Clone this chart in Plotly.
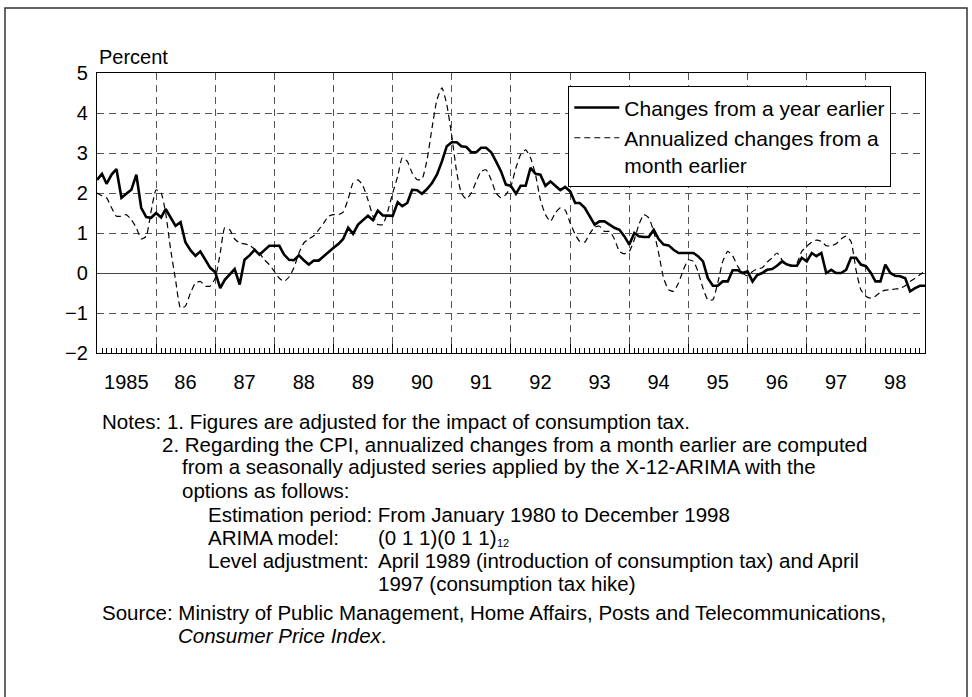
import pandas as pd
import plotly.graph_objects as go

# ---------------- data ----------------
MONTHS = pd.date_range("1985-01-01", periods=169, freq="MS")
YEAR_TICKS = pd.date_range("1985-01-01", "1999-01-01", freq="YS")
YEAR_LABEL_POS = pd.date_range("1985-07-01", "1998-07-01", freq="12MS")
YEAR_LABELS = ["1985", "86", "87", "88", "89", "90", "91", "92", "93", "94", "95", "96", "97", "98"]
Y_TICKS = [-2, -1, 0, 1, 2, 3, 4, 5]
Y_LABELS = ["\u22122", "\u22121", "0", "1", "2", "3", "4", "5"]

YOY = [
    2.33, 2.48, 2.23, 2.46, 2.60, 1.88, 1.98, 2.08, 2.46, 1.63, 1.40, 1.38,
    1.50, 1.39, 1.60, 1.40, 1.18, 1.27, 0.77, 0.57, 0.43, 0.54, 0.33, 0.13,
    0.02, -0.38, -0.17, -0.02, 0.10, -0.29, 0.33, 0.44, 0.58, 0.46, 0.57, 0.68,
    0.68, 0.68, 0.46, 0.33, 0.32, 0.44, 0.32, 0.21, 0.31, 0.31, 0.42, 0.53,
    0.63, 0.73, 0.85, 1.13, 0.98, 1.21, 1.33, 1.43, 1.32, 1.56, 1.44, 1.43,
    1.43, 1.77, 1.67, 1.75, 2.08, 2.07, 1.98, 2.10, 2.25, 2.46, 2.79, 3.17,
    3.27, 3.27, 3.17, 3.15, 3.02, 3.02, 3.13, 3.13, 3.02, 2.79, 2.54, 2.21,
    2.18, 1.98, 2.18, 2.18, 2.63, 2.48, 2.46, 2.18, 2.29, 2.18, 2.07, 2.15,
    2.04, 1.75, 1.75, 1.63, 1.42, 1.21, 1.29, 1.29, 1.21, 1.13, 1.08, 0.92,
    0.71, 1.00, 0.92, 0.90, 0.90, 1.08, 0.85, 0.71, 0.69, 0.58, 0.50, 0.50,
    0.50, 0.50, 0.42, 0.29, -0.13, -0.32, -0.32, -0.21, -0.21, 0.07, 0.07, 0.00,
    0.04, -0.21, -0.05, 0.00, 0.08, 0.10, 0.18, 0.29, 0.21, 0.18, 0.18, 0.38,
    0.29, 0.50, 0.42, 0.50, 0.00, 0.08, 0.00, 0.00, 0.08, 0.38, 0.38, 0.21,
    0.17, 0.00, -0.21, -0.21, 0.21, 0.00, -0.07, -0.08, -0.13, -0.46, -0.38, -0.32,
    -0.32,
]

MOM_ANNUALIZED = [
    2.00, 1.93, 1.88, 1.63, 1.42, 1.42, 1.46, 1.33, 1.13, 0.85, 0.92, 1.54,
    2.08, 2.00, 1.50, 0.58, -0.17, -0.88, -0.83, -0.50, -0.25, -0.21, -0.33, -0.33,
    -0.13, 0.50, 1.13, 1.08, 0.85, 0.75, 0.73, 0.69, 0.60, 0.50, 0.33, 0.21,
    0.04, -0.13, -0.21, -0.10, 0.13, 0.50, 0.75, 0.85, 0.93, 1.08, 1.25, 1.42,
    1.46, 1.46, 1.52, 1.85, 2.25, 2.33, 2.18, 1.83, 1.42, 1.21, 1.21, 1.54,
    2.00, 2.42, 2.88, 2.79, 2.50, 2.33, 2.35, 2.83, 3.63, 4.33, 4.63, 4.21,
    3.42, 2.50, 2.00, 1.85, 2.00, 2.29, 2.54, 2.58, 2.33, 2.00, 1.88, 1.96,
    2.17, 2.63, 2.96, 3.08, 2.88, 2.46, 1.83, 1.46, 1.29, 1.50, 1.63, 1.57,
    1.25, 0.96, 0.79, 0.77, 0.98, 1.15, 1.17, 1.04, 1.04, 0.85, 0.54, 0.48,
    0.54, 0.83, 1.21, 1.46, 1.38, 1.04, 0.50, -0.13, -0.42, -0.46, -0.25, 0.08,
    0.33, 0.29, 0.04, -0.38, -0.67, -0.67, -0.25, 0.29, 0.54, 0.43, 0.17, 0.00,
    -0.07, 0.04, 0.10, 0.13, 0.27, 0.38, 0.50, 0.33, 0.21, 0.17, 0.25, 0.54,
    0.67, 0.77, 0.82, 0.79, 0.68, 0.68, 0.73, 0.85, 0.92, 0.79, 0.08, -0.42,
    -0.58, -0.63, -0.58, -0.48, -0.43, -0.42, -0.40, -0.38, -0.32, -0.21, -0.13, -0.04,
    0.04,
]

SERIES_NAMES = ["Changes from a year earlier", "Annualized changes from a<br>month earlier"]

FS = 20
FS_NOTES = 20.5
FS_LEGEND = 21
FS_SUB = 11

# (text, x, y, font size) in page pixels
NOTES = [
    ("Notes: 1. Figures are adjusted for the impact of consumption tax.", 100, 421, FS_NOTES),
    ("2. Regarding the CPI, annualized changes from a month earlier are computed", 160, 444, FS_NOTES),
    ("from a seasonally adjusted series applied by the X-12-ARIMA with the", 180, 467, FS_NOTES),
    ("options as follows:", 180, 490, FS_NOTES),
    ("Estimation period: From January 1980 to December 1998", 206, 514, FS_NOTES),
    ("ARIMA model:", 206, 537, FS_NOTES),
    ("(0 1 1)(0 1 1)", 376, 537, FS_NOTES),
    ("12", 495, 543, FS_SUB),
    ("Level adjustment:", 206, 560, FS_NOTES),
    ("April 1989 (introduction of consumption tax) and April", 376, 560, FS_NOTES),
    ("1997 (consumption tax hike)", 376, 583, FS_NOTES),
    ("Source: Ministry of Public Management, Home Affairs, Posts and Telecommunications,", 100, 612, FS_NOTES),
    ("<i>Consumer Price Index</i>.", 176, 635, FS_NOTES),
]

# ---------------- layout geometry (page pixels) ----------------
W, H = 972, 697
L, R, T, B = 97, 925, 73, 353
FONT = "Liberation Sans, Arial, sans-serif"


def px(x):
    return (x - L) / (R - L)


def py(y):
    return (B - y) / (B - T)


fig = go.Figure()
fig.add_trace(go.Scatter(
    x=MONTHS, y=YOY, name=SERIES_NAMES[0], mode="lines",
    line=dict(color="black", width=2.6), xaxis="x", yaxis="y",
))
fig.add_trace(go.Scatter(
    x=MONTHS, y=MOM_ANNUALIZED, name=SERIES_NAMES[1], mode="lines",
    line=dict(color="black", width=1.2, dash="6px,4px", shape="spline", smoothing=0.5),
    xaxis="x2", yaxis="y",
))

grid_color = "#555555"
fig.update_layout(
    width=W, height=H,
    margin=dict(l=L, r=W - R, t=T, b=H - B, pad=0),
    paper_bgcolor="white", plot_bgcolor="white",
    font=dict(family=FONT, size=FS, color="black"),
    showlegend=True,
    legend=dict(
        x=px(568), y=py(86), xanchor="left", yanchor="top",
        bgcolor="white", bordercolor="black", borderwidth=1.3,
        font=dict(family=FONT, size=FS_LEGEND, color="black"),
        valign="top", itemwidth=45, tracegroupgap=0,
    ),
    xaxis=dict(
        type="date", range=[YEAR_TICKS[0], YEAR_TICKS[-1]],
        tickmode="array", tickvals=YEAR_TICKS, showticklabels=False,
        ticks="inside", ticklen=9, tickwidth=1, tickcolor="black",
        showgrid=True, gridcolor=grid_color, gridwidth=1, griddash="7px,5px",
        showline=True, linecolor="black", linewidth=1.3, mirror=True,
        minor=dict(ticks="inside", ticklen=5, tickwidth=1, tickcolor="black",
                   dtick="M1", tick0=YEAR_TICKS[0], showgrid=False),
        zeroline=False, fixedrange=True,
    ),
    xaxis2=dict(
        type="date", overlaying="x", matches="x", anchor="y", side="bottom",
        tickmode="array", tickvals=YEAR_LABEL_POS, ticktext=YEAR_LABELS,
        ticks="", showgrid=False, showline=False, zeroline=False,
        ticklabelstandoff=15, tickfont=dict(family=FONT, size=FS, color="black"),
        fixedrange=True,
    ),
    yaxis=dict(
        range=[-2, 5], tickmode="array", tickvals=Y_TICKS, ticktext=Y_LABELS,
        ticks="", ticklabelstandoff=4,
        showgrid=True, gridcolor=grid_color, gridwidth=1, griddash="7px,5px",
        zeroline=True, zerolinecolor="#444444", zerolinewidth=1,
        showline=True, linecolor="black", linewidth=1.3, mirror=True,
        tickfont=dict(family=FONT, size=FS, color="black"), fixedrange=True,
    ),
)

# outer frame
fig.add_shape(type="rect", xref="paper", yref="paper",
              x0=px(5), x1=px(967), y0=py(705), y1=py(8),
              line=dict(color="#333333", width=1.5), layer="below")

# axis unit label
fig.add_annotation(text="Percent", xref="paper", yref="paper", x=px(97), y=py(57),
                   xanchor="left", yanchor="middle", showarrow=False,
                   font=dict(family=FONT, size=FS, color="black"))

for text, x, y, size in NOTES:
    fig.add_annotation(text=text, xref="paper", yref="paper", x=px(x), y=py(y),
                       xanchor="left", yanchor="middle", showarrow=False,
                       font=dict(family=FONT, size=size, color="black"))

fig.write_html(
    "out.html",
    config={"displayModeBar": False},
    post_script="document.body.style.margin='0';document.body.style.overflow='hidden';",
)
